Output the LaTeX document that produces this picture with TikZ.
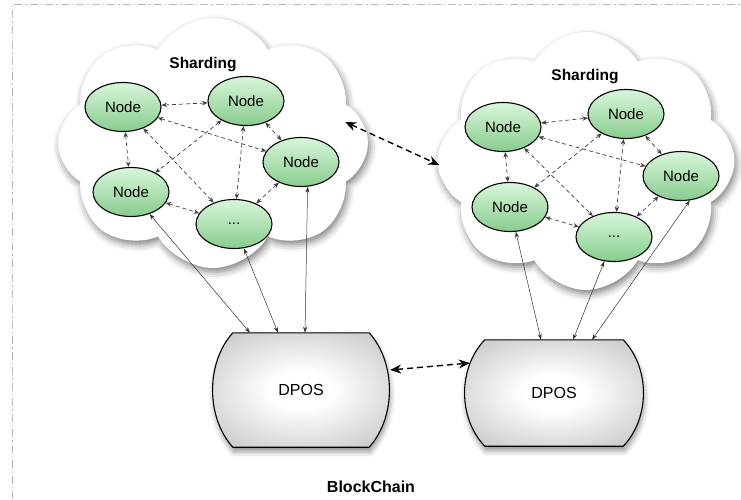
\documentclass[tikz,border=0pt]{standalone}
\usepackage{fontspec}
\setmainfont{Liberation Sans}
\usetikzlibrary{shapes.symbols,shapes.geometric,arrows.meta,shadows.blur,backgrounds}

\definecolor{nodetop}{RGB}{216,246,218}
\definecolor{nodebot}{RGB}{136,204,142}
\definecolor{dposout}{RGB}{178,178,178}
\pgfdeclareradialshading{dposshade}{\pgfpoint{0bp}{0bp}}{color(0bp)=(white); color(8bp)=(white); color(42bp)=(dposout); color(80bp)=(dposout)}

\tikzset{
  shard/.style={cloud, cloud puffs=8, cloud puff arc=120, cloud ignores aspect,
    fill=white, blur shadow={shadow xshift=2pt, shadow yshift=-4pt, shadow opacity=50, shadow blur radius=7pt}},
  peer/.style={ellipse, draw, line width=1.1pt, minimum width=76pt, minimum height=49pt,
    top color=nodetop, bottom color=nodebot, font=\fontsize{15}{15}\selectfont},
  dpos/.style={rectangle, minimum width=176pt, minimum height=114pt, font=\fontsize{16}{16}\selectfont},
  dposbody/.style={draw, line width=1.1pt, shading=dposshade,
    blur shadow={shadow xshift=1pt, shadow yshift=-5pt, shadow opacity=40, shadow blur radius=5pt}},
  link/.style={dashed, dash pattern=on 4pt off 3pt, line width=0.7pt, draw=black!75, {Stealth[length=5.5pt,width=4.5pt]}-{Stealth[length=5.5pt,width=4.5pt]}},
  wire/.style={line width=0.5pt, draw=black!80, {Stealth[length=6pt,width=4pt]}-{Stealth[length=6pt,width=4pt]}},
  bridge/.style={dashed, dash pattern=on 6pt off 4pt, line width=1.4pt, {Stealth[length=11pt,width=9pt]}-{Stealth[length=11pt,width=9pt]}},
  title/.style={font=\bfseries\fontsize{15.5}{15.5}\selectfont}
}

\begin{document}
\begin{tikzpicture}[x=1pt, y=-1pt]
  \useasboundingbox (0,0) rectangle (741,500);
  \draw[gray!55, line width=1pt, dash pattern=on 8pt off 3pt on 1.5pt off 3pt] (12,499) |- (745,5);

  % Clouds
  \node[shard, minimum width=310pt, minimum height=250pt] (lcloud) at (213,143) {};
  \node[shard, minimum width=297pt, minimum height=258pt] (rcloud) at (586,161) {};
  \node[title] at (203,65) {Sharding};
  \node[title] at (585,77) {Sharding};

  % left shard
  \node[peer] (ltl) at (123,107) {Node};
  \node[peer] (ltr) at (246,101) {Node};
  \node[peer] (lr) at (301,162) {Node};
  \node[peer] (lbl) at (131,192) {Node};
  \node[peer] (lbm) at (234,224) {...};

  % right shard
  \node[peer] (rtl) at (503,127) {Node};
  \node[peer] (rtr) at (626,114) {Node};
  \node[peer] (rr) at (681,176) {Node};
  \node[peer] (rbl) at (510,207) {Node};
  \node[peer] (rbm) at (614,237) {...};

  % DPOS
  \node[dpos] (ldpos) at (301,390) {DPOS};
  \node[dpos, minimum width=178pt, minimum height=106pt] (rdpos) at (554,393) {DPOS};
  \node[title, font=\bfseries\fontsize{16}{16}\selectfont] (chain) at (371,487) {BlockChain};

  \begin{pgfonlayer}{background}
    \path[dposbody] ([xshift=20pt]ldpos.north west) -- ([xshift=-20pt]ldpos.north east)
      .. controls ([xshift=7pt,yshift=-30pt]ldpos.north east) and ([xshift=7pt,yshift=30pt]ldpos.south east) .. ([xshift=-20pt]ldpos.south east)
      -- ([xshift=20pt]ldpos.south west)
      .. controls ([xshift=-7pt,yshift=30pt]ldpos.south west) and ([xshift=-7pt,yshift=-30pt]ldpos.north west) .. cycle;
    \path[dposbody] ([xshift=20pt]rdpos.north west) -- ([xshift=-20pt]rdpos.north east)
      .. controls ([xshift=7pt,yshift=-28pt]rdpos.north east) and ([xshift=7pt,yshift=28pt]rdpos.south east) .. ([xshift=-20pt]rdpos.south east)
      -- ([xshift=20pt]rdpos.south west)
      .. controls ([xshift=-7pt,yshift=28pt]rdpos.south west) and ([xshift=-7pt,yshift=-28pt]rdpos.north west) .. cycle;
  \end{pgfonlayer}

  % peer links
  \draw[link] (ltl) -- (ltr);
  \draw[link] (ltl) -- (lr);
  \draw[link] (ltl) -- (lbm);
  \draw[link] (ltl) -- (lbl);
  \draw[link] (ltr) -- (lbl);
  \draw[link] (ltr) -- (lbm);
  \draw[link] (ltr) -- (lr);
  \draw[link] (lr) -- (lbm);
  \draw[link] (lbl) -- (lbm);

  \draw[link] (rtl) -- (rtr);
  \draw[link] (rtl) -- (rr);
  \draw[link] (rtl) -- (rbm);
  \draw[link] (rtl) -- (rbl);
  \draw[link] (rtr) -- (rbl);
  \draw[link] (rtr) -- (rbm);
  \draw[link] (rtr) -- (rr);
  \draw[link] (rr) -- (rbm);
  \draw[link] (rbl) -- (rbm);

  % to DPOS
  \draw[wire] (lbl) -- ([xshift=-51pt]ldpos.north);
  \draw[wire] (lbm) -- ([xshift=-23pt]ldpos.north);
  \draw[wire] (lr.-75) -- ([xshift=4pt]ldpos.north);
  \draw[wire] (rbl) -- ([xshift=-13pt]rdpos.north);
  \draw[wire] (rbm) -- ([xshift=19pt]rdpos.north);
  \draw[wire] (rr.-70) -- ([xshift=38pt]rdpos.north);

  % between shards
  \draw[bridge] ([shift={(-23,-21)}]lcloud.east) -- ([shift={(2,4)}]rcloud.west);
  \draw[bridge] ([shift={(1,-20)}]ldpos.east) -- ([shift={(5,-30)}]rdpos.west);
\end{tikzpicture}
\end{document}
